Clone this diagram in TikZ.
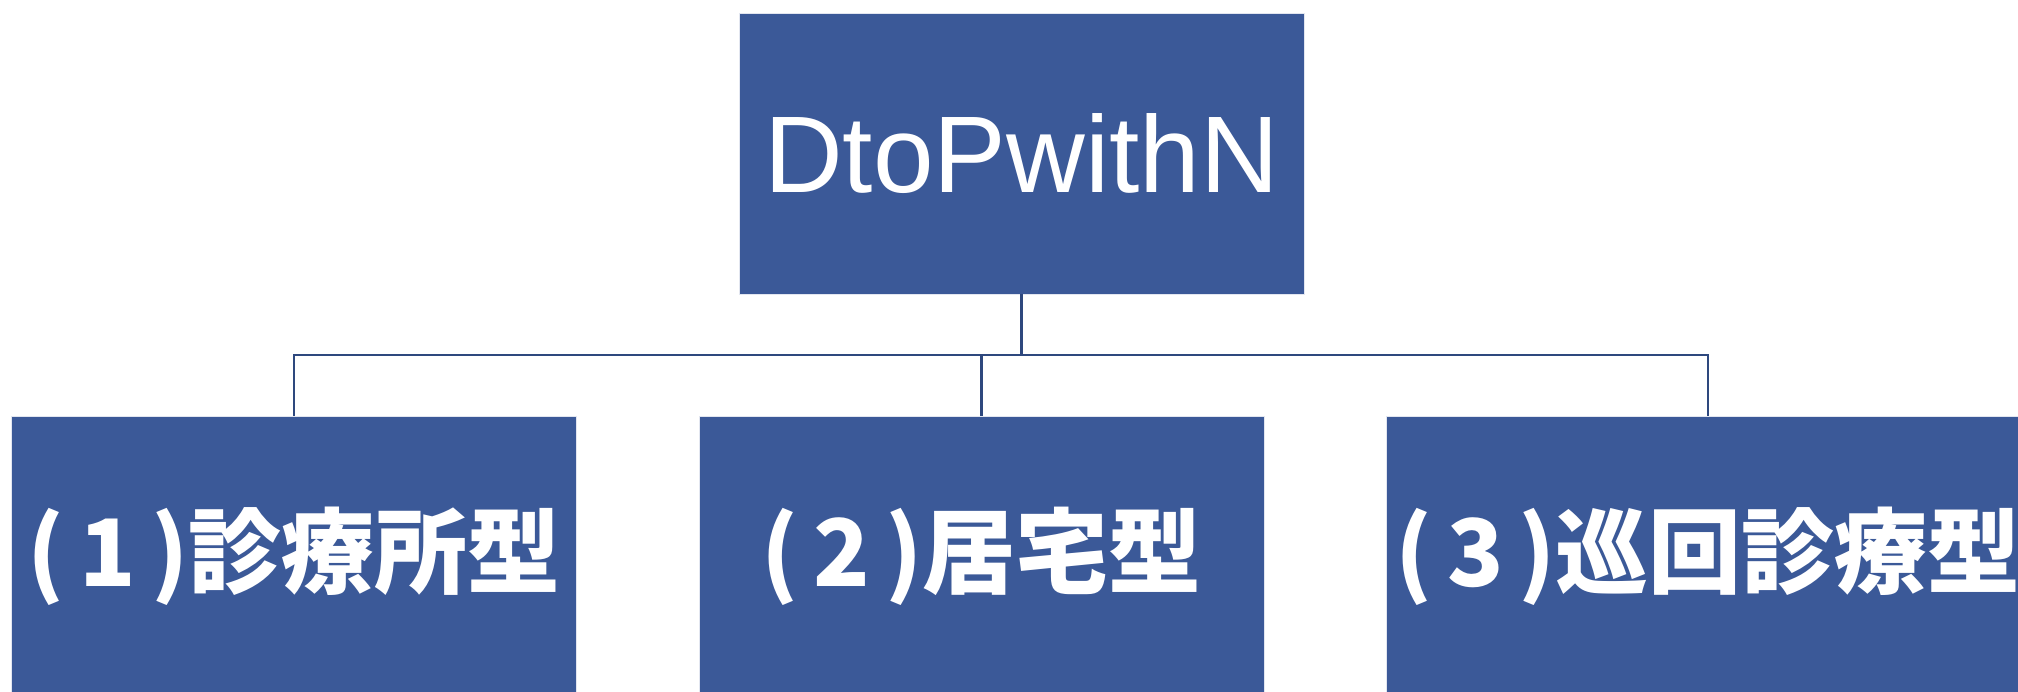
\documentclass[tikz,border=0pt]{standalone}
\usepackage{graphicx,tikz}
\usepackage{xcolor}
\usepackage{fontspec}
\newfontfamily\latinfont{Liberation Sans}
\newfontfamily\jpfont{Noto Sans CJK JP}
\definecolor{boxblue}{RGB}{59,89,152}
\definecolor{linkblue}{RGB}{46,72,126}

\begin{document}
\begin{tikzpicture}[x=1pt,y=-1pt,
    every node/.style={rectangle, fill=boxblue, draw=white!85!boxblue, line width=0.8pt, text=white, minimum height=281pt, inner sep=0pt},
    topbox/.style={minimum width=565pt, font=\latinfont\fontsize{109}{112}\selectfont},
    kindbox/.style={minimum width=565pt, font=\jpfont\bfseries\fontsize{93}{100}\selectfont},
    link/.style={draw=linkblue, line width=2.5pt}]
    \useasboundingbox (0,0) rectangle (2018,691);
    \clip (0,0) rectangle (2018,691);
    \node[topbox] (top) at (1021.5,153.5) {DtoPwithN};
    \node[kindbox] (c1) at (294,556.5) {(\kern.16em1\kern.16em)診療所型};
    \node[kindbox] (c2) at (981.5,556.5) {(\kern.16em2\kern.16em)居宅型};
    \node[kindbox,minimum width=644pt] (c3) at (1708,556.5) {(\kern.16em3\kern.16em)巡回診療型};

    \coordinate (bus) at (0,355);
    \draw[link] (top.south) -- (top.south |- bus);
    \draw[link] (c1.north) |- (c3.north |- bus) -- (c3.north);
    \draw[link] (c2.north) -- (c2.north |- bus);
  \end{tikzpicture}
\end{document}
